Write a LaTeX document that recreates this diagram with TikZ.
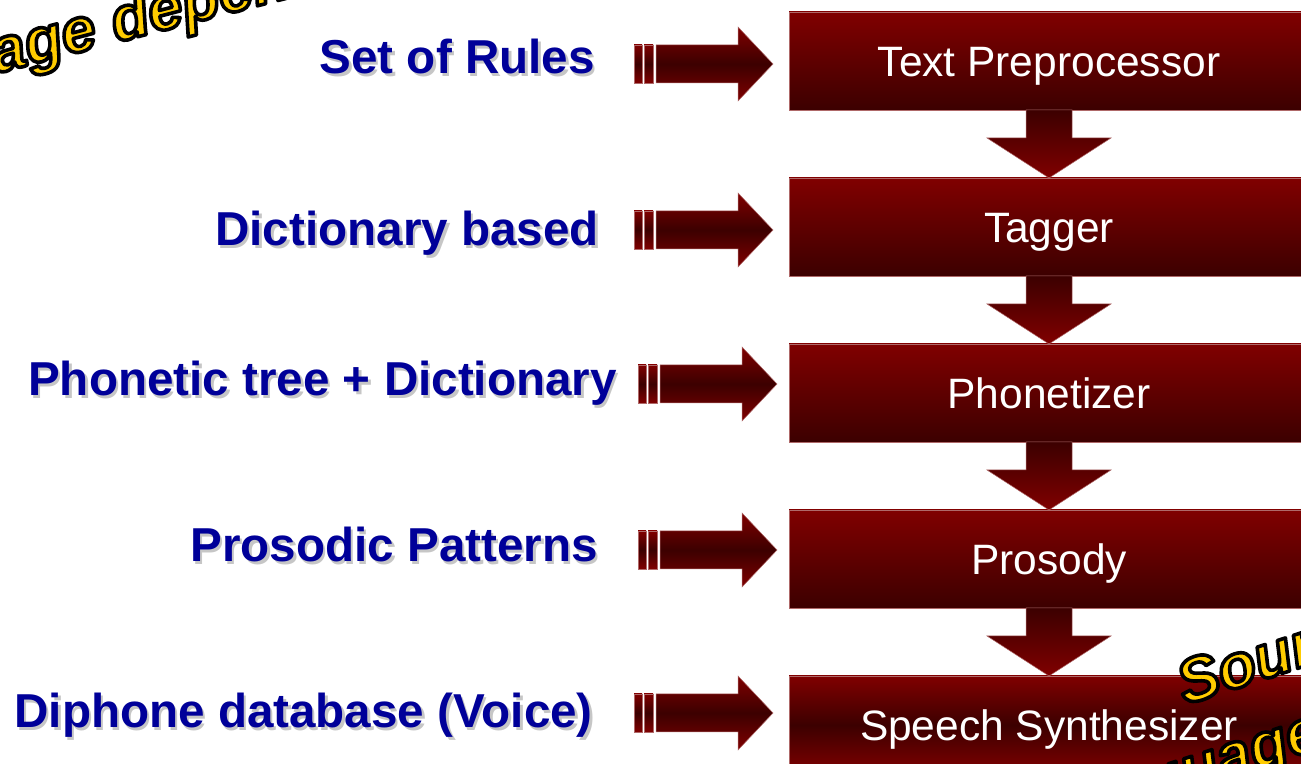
\documentclass[tikz,border=0pt]{standalone}
\usepackage{fontspec}
\setmainfont{Liberation Sans}
\usepackage{tikz}
\usetikzlibrary{positioning}
\definecolor{maroonTop}{RGB}{128,0,0}
\definecolor{maroonDark}{RGB}{60,0,0}
\definecolor{maroonEdge}{RGB}{175,105,105}
\definecolor{ruleBlue}{RGB}{0,0,153}
\definecolor{bannerYellow}{RGB}{255,204,0}
\tikzset{
    node distance = 68pt,
    stage/.style={rectangle, minimum width=520pt, minimum height=98pt,
        inner sep=0pt, outer sep=0pt, text height=30.5pt, text depth=0pt,
        top color=maroonTop, bottom color=maroonDark, draw=maroonEdge,
        line width=0.6pt, text=white, font=\fontsize{42.5}{42.5}\selectfont},
    source/.style={anchor=base east, inner sep=0pt, text=ruleBlue,
        font=\fontsize{47.6}{47.6}\selectfont\bfseries},
    banner/.style={anchor=base west, inner sep=0pt, text=bannerYellow,
        font=\fontsize{62}{62}\selectfont\bfseries\itshape},
    feed/.style={top color=maroonTop, bottom color=maroonTop, middle color=maroonDark,
        draw=maroonEdge, line width=0.5pt},
    flow/.style={top color=maroonDark, bottom color=maroonTop,
        draw=maroonEdge, line width=0.5pt}
}
% label with a soft grey shadow
\newcommand{\srclabel}[3]{%
    \node[source, text=gray!45] at ([shift={(2.5,-2.5)}]#2) {#3};
    \node[source] (#1) at (#2) {#3};}
% yellow text with a black outline (fill + stroke render mode)
\newcommand{\outlinetext}[1]{%
    \special{pdf:literal direct 0 0 0 RG 3.6 w 1 j 2 Tr}#1\special{pdf:literal direct 0 Tr}}

\begin{document}
\begin{tikzpicture}[x=1pt, y=1pt]
    \useasboundingbox (0,0) rectangle (1301,763);
    \clip (0,0) rectangle (1301,763);

    % processing chain
    \node[stage] (prep) at (1049,702) {Text Preprocessor};
    \node[stage, below=of prep] (tagger) {Tagger};
    \node[stage, below=of tagger] (phon) {Phonetizer};
    \node[stage, below=of phon] (pros) {Prosody};
    \node[stage, below=of pros, top color=maroonTop, bottom color=maroonTop,
        middle color=maroonDark] (synth) {Speech Synthesizer};

    \foreach \a/\b in {prep/tagger, tagger/phon, phon/pros, pros/synth}
        \path[flow] ([xshift=-23pt]\a.south) -- ++(0,-28) -- ++(-39,0) -- (\b.north)
            -- ++(62,40) -- ++(-39,0) -- ([xshift=23pt]\a.south) -- cycle;

    % inputs
    \srclabel{rules}{595,689}{Set of Rules}
    \srclabel{dict}{599,517}{Dictionary based}
    \srclabel{tree}{617,367}{Phonetic tree + Dictionary}
    \srclabel{patt}{598,201}{Prosodic Patterns}
    \srclabel{voice}{593,35}{Diphone database (Voice)}

    \foreach \x/\y in {634/699, 634/533, 638/379, 638/213, 634/50} {
        \path[feed] (\x,\y-19) rectangle ++(8,38);
        \path[feed] (\x+10,\y-19) rectangle ++(9,38);
        \path[feed] (\x+22,\y-19) -- ++(82,0) -- ++(0,-18) -- (\x+139,\y)
            -- (\x+104,\y+37) -- ++(0,-18) -- (\x+22,\y+19) -- cycle;
    }

    % banners
    \node[banner, rotate=14.5] (langdep) at (-184,643) {\outlinetext{Language dependent}};
    \node[banner, rotate=18] (sound) at (1185,58) {\outlinetext{Sound}};
    \node[banner, rotate=18] (langind) at (1046,-75) {\outlinetext{Language}};
\end{tikzpicture}
\end{document}
